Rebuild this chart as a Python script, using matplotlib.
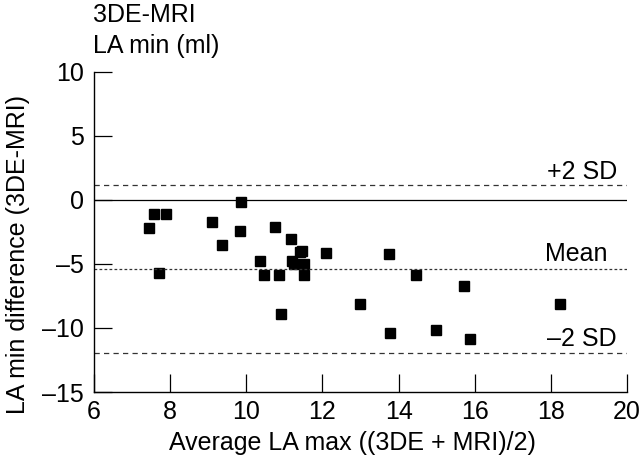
import matplotlib
matplotlib.use("Agg")
import matplotlib.pyplot as plt
import numpy as np

# Bland-Altman: 3DE vs MRI, LA min
avg_la = [7.58, 7.90, 7.44, 7.71, 9.10, 9.36, 9.86, 9.84, 10.35, 10.46,
          10.75, 10.85, 10.91, 11.17, 11.20, 11.26, 11.42, 11.47, 11.52, 11.52,
          12.10, 12.98, 13.76, 14.46, 15.73, 13.78, 14.97, 15.87, 18.25]
diff_la = [-1.14, -1.14, -2.23, -5.72, -1.74, -3.56, -0.20, -2.44, -4.80, -5.90,
           -2.11, -5.90, -8.94, -3.04, -4.78, -5.02, -4.06, -4.00, -5.02, -5.90,
           -4.16, -8.16, -4.26, -5.87, -6.71, -10.40, -10.14, -10.89, -8.11]

mean_diff = -5.39
upper_sd = 1.15
lower_sd = -11.93

x_ticks = [6, 8, 10, 12, 14, 16, 18, 20]
y_ticks = [-15, -10, -5, 0, 5, 10]

plt.rcParams['font.family'] = ['Liberation Sans', 'DejaVu Sans']

fig = plt.figure(figsize=(6.4, 4.63), dpi=100)
ax = fig.add_axes([94/640, 1 - 392/463, (627-94)/640, (392-71.5)/463])

ax.plot(avg_la, diff_la, ls='none', marker='s', ms=7.2, color='black', mec='black')

lw = 0.9
ax.plot([6, 20], [0, 0], color='black', lw=lw)
ax.plot([6, 20], [upper_sd, upper_sd], color='#333333', lw=lw, ls=(0, (4.2, 3.4)))
ax.plot([6, 20], [lower_sd, lower_sd], color='#333333', lw=lw, ls=(0, (4.2, 3.4)))
ax.plot([6, 20], [mean_diff, mean_diff], color='#333333', lw=lw, ls=(0, (2.2, 1.8)))

fs = 18
ax.text(19.74, 1.61, '+2 SD', ha='right', va='baseline', fontsize=fs)
ax.text(19.50, -4.80, 'Mean', ha='right', va='baseline', fontsize=fs)
ax.text(19.74, -11.44, '\u20132 SD', ha='right', va='baseline', fontsize=fs)

ax.set_xlim(6, 20)
ax.set_ylim(-15, 10)
ax.set_xticks(x_ticks)
ax.set_yticks(y_ticks)
ax.set_yticklabels([str(v).replace('-', '\u2013') for v in y_ticks])
ax.tick_params(direction='in', length=13, width=0.9, labelsize=fs)
ax.tick_params(axis='x', pad=6)
ax.tick_params(axis='y', pad=7.5)

for s in ['top', 'right']:
    ax.spines[s].set_visible(False)
for s in ['left', 'bottom']:
    ax.spines[s].set_linewidth(1.0)

ax.set_xlabel('Average LA max ((3DE + MRI)/2)', fontsize=fs)
ax.set_ylabel('LA min difference (3DE-MRI)', fontsize=fs)
ax.xaxis.set_label_coords(0.484, -0.121)
ax.yaxis.set_label_coords(-0.121, 0.43)

fig.text(93/640, 1 - 22/463, '3DE-MRI', fontsize=fs, ha='left', va='baseline')
fig.text(93/640, 1 - 53/463, 'LA min (ml)', fontsize=fs, ha='left', va='baseline')

fig.savefig('out.png', dpi=100)
